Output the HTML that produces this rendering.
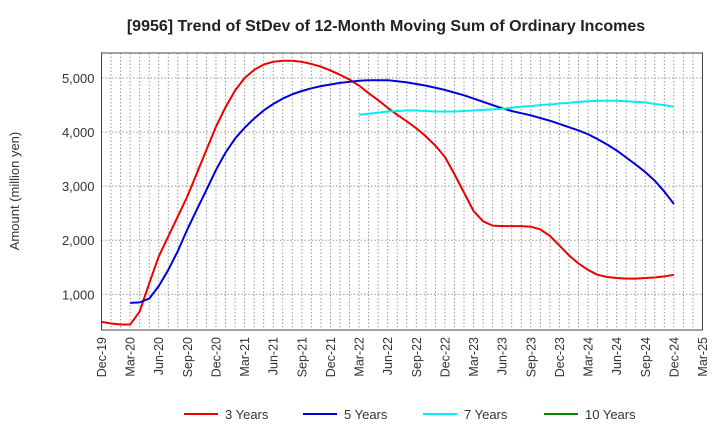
<!DOCTYPE html>
<html><head><meta charset="utf-8"><style>
body{margin:0;background:#fff;}
svg{font-family:"Liberation Sans",Arial,sans-serif;}
</style></head><body>
<svg id="chart" width="720" height="440" xmlns="http://www.w3.org/2000/svg">
<text x="386" y="31" text-anchor="middle" font-size="16" font-weight="bold" fill="#222">[9956]  Trend of StDev of 12-Month Moving Sum of Ordinary Incomes</text>
<text transform="translate(19,191) rotate(-90)" text-anchor="middle" font-size="13" fill="#333">Amount (million yen)</text>
<g id="grid"></g><g id="axes"></g><g id="series"></g><g id="legend"></g>
</svg>
<script>
const startLabels=["Dec-19","Mar-20","Jun-20","Sep-20","Dec-20","Mar-21","Jun-21","Sep-21","Dec-21","Mar-22","Jun-22","Sep-22","Dec-22","Mar-23","Jun-23","Sep-23","Dec-23","Mar-24","Jun-24","Sep-24","Dec-24","Mar-25"];
const yTicks=[1000,2000,3000,4000,5000];
const yTickLabels=["1,000","2,000","3,000","4,000","5,000"];
const seriesNames=["3 Years","5 Years","7 Years","10 Years"];
const seriesColors=["#ee0000","#0000dd","#00eeee","#008800"];
// monthly values starting at month index (0 = Dec-19)
const red=[490,460,440,440,680,1200,1700,2070,2440,2810,3240,3670,4100,4460,4770,5000,5150,5250,5300,5320,5320,5300,5260,5210,5140,5060,4970,4860,4720,4590,4450,4320,4200,4070,3920,3750,3540,3220,2880,2540,2350,2270,2260,2260,2260,2250,2200,2080,1900,1720,1570,1450,1360,1320,1300,1290,1290,1300,1310,1330,1360];
const redStart=0;
const blue=[840,850,920,1150,1450,1800,2200,2570,2930,3300,3620,3880,4080,4250,4400,4520,4620,4700,4760,4810,4850,4880,4910,4930,4950,4960,4960,4960,4940,4920,4890,4860,4820,4780,4730,4680,4620,4560,4500,4440,4390,4350,4310,4260,4210,4150,4090,4030,3960,3870,3770,3660,3530,3400,3260,3100,2900,2670];
const blueStart=3;
const cyan=[4320,4340,4360,4380,4390,4400,4400,4390,4380,4380,4380,4390,4400,4410,4420,4430,4450,4470,4480,4500,4510,4530,4540,4560,4570,4580,4580,4580,4570,4560,4550,4520,4500,4470];
const cyanStart=27;
const green=[];
const greenStart=0;

const L=101.5,R=702.5,T=53,B=330,totalMonths=63;
const yMin=339,yMax=5463;
const X=m=>L+(R-L)*m/totalMonths;
const Y=v=>B-(B-T)*(v-yMin)/(yMax-yMin);
const NS="http://www.w3.org/2000/svg";
function mk(tag,attrs,parent){const e=document.createElementNS(NS,tag);for(const k in attrs)e.setAttribute(k,attrs[k]);parent.appendChild(e);return e;}
const grid=document.getElementById('grid'),axes=document.getElementById('axes'),ser=document.getElementById('series'),leg=document.getElementById('legend');
for(let m=1;m<totalMonths;m++){const l=mk('line',{x1:X(m),x2:X(m),y1:T,y2:B,stroke:'#999','stroke-width':1,'stroke-dasharray':'1.5,2'},grid);

}
yTicks.forEach((v,i)=>{const l=mk('line',{x1:L,x2:R,y1:Y(v),y2:Y(v),stroke:'#999','stroke-width':1,'stroke-dasharray':'1.5,2'},grid);


const t=mk('text',{x:L-7,y:Y(v)+5,'text-anchor':'end','font-size':13,fill:'#333'},axes);t.textContent=yTickLabels[i];

});
const fr=mk('rect',{x:L,y:T,width:R-L,height:B-T,fill:'none',stroke:'#444','stroke-width':1},axes);


startLabels.forEach((s,i)=>{const x=X(i*3);const t=mk('text',{transform:`translate(${x+4.5},${B+7}) rotate(-90)`,'text-anchor':'end','font-size':12.5,fill:'#333'},axes);t.textContent=s;

});
function draw(vals,start,color,name){if(!vals.length)return;const d=vals.map((v,i)=>(i?'L':'M')+X(start+i).toFixed(2)+','+Y(v).toFixed(2)).join(' ');
const p=mk('path',{d:d,fill:'none',stroke:color,'stroke-width':2,'stroke-linejoin':'round'},ser);

}
draw(red,redStart,seriesColors[0],'line-3-years');
draw(blue,blueStart,seriesColors[1],'line-5-years');
draw(cyan,cyanStart,seriesColors[2],'line-7-years');
draw(green,greenStart,seriesColors[3],'line-10-years');
const lx=[184,303,423,544];
seriesNames.forEach((n,i)=>{const g=mk('g',{},leg);


mk('line',{x1:lx[i],x2:lx[i]+34,y1:414,y2:414,stroke:seriesColors[i],'stroke-width':2},g);
const t=mk('text',{x:lx[i]+41,y:419,'font-size':13,fill:'#333'},g);t.textContent=n;});
</script>
</body></html>
